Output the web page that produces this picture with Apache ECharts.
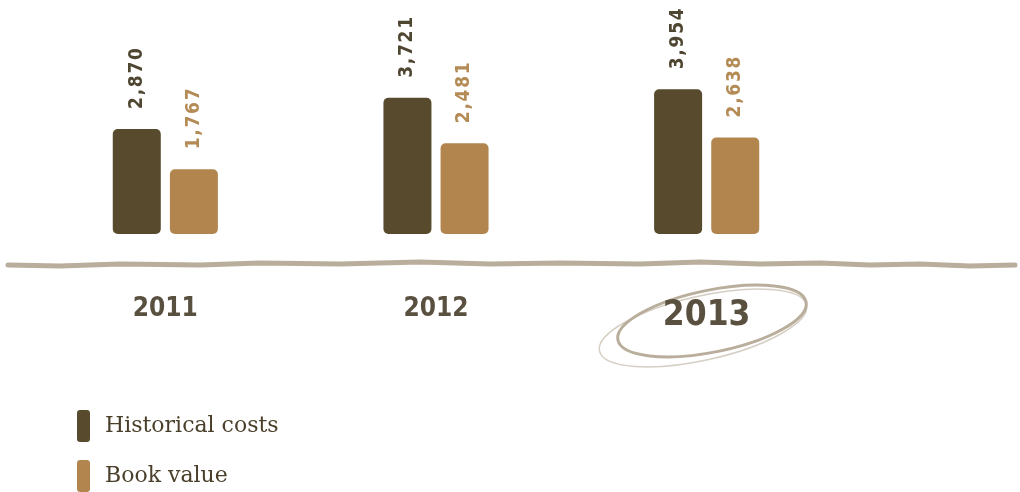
<!DOCTYPE html>
<html>
<head>
<meta charset="utf-8">
<script src="https://cdn.jsdelivr.net/npm/echarts@6/dist/echarts.min.js"></script>
<style>
  html, body { margin: 0; padding: 0; background: #fff; }
  #chart { width: 1020px; height: 492px; }
</style>
</head>
<body>
<div id="chart"></div>
<script>
  // chart data
  const years = ["2011", "2012", "2013"];
  const historicalCosts = [2870, 3721, 3954];
  const bookValue = [1767, 2481, 2638];
  const seriesNames = ["Historical costs", "Book value"];

  const dark = "#574a2d";
  const tan = "#b2854f";
  const line = "#b9ad9b";

  const chart = echarts.init(document.getElementById("chart"));

  const numberLabel = color => ({
    show: true,
    position: "top",
    rotate: 90,
    distance: 20,
    align: "left",
    verticalAlign: "middle",
    color: color,
    fontFamily: "DejaVu Sans Condensed",
    fontWeight: "bold",
    fontSize: 19,
    formatter: p => p.value.toLocaleString("en-US").split("").join("\u200a")
  });

  const option = {
    animation: false,
    grid: { left: 30, right: 178, top: 34, bottom: 258 },
    legend: {
      orient: "vertical",
      left: 77,
      top: 410,
      height: 82,
      padding: 0,
      itemWidth: 13,
      itemHeight: 32,
      itemGap: 18,
      icon: "roundRect",
      textStyle: {
        color: "#4a3f2a",
        fontFamily: "DejaVu Serif",
        fontSize: 22,
        padding: [0, 0, 22, 10]
      },
      data: seriesNames
    },
    xAxis: {
      type: "category",
      data: years,
      axisLine: { show: false },
      axisTick: { show: false },
      axisLabel: {
        margin: 62,
        color: "#595040",
        fontFamily: "DejaVu Sans Condensed",
        fontWeight: "bold",
        fontSize: 26,
        formatter: v => v === "2013" ? "{big|" + v + "}" : v,
        rich: {
          big: {
            color: "#595040",
            fontFamily: "DejaVu Sans Condensed",
            fontWeight: "bold",
            fontSize: 35,
            padding: [2, 0, 0, 0]
          }
        }
      }
    },
    yAxis: {
      type: "value",
      min: 0,
      max: 5463,
      show: false,
      splitLine: { show: false }
    },
    series: [
      {
        name: seriesNames[0],
        type: "bar",
        data: historicalCosts,
        barWidth: 48,
        barGap: "19%",
        itemStyle: { color: dark, borderRadius: 5 },
        label: numberLabel("#4f4632")
      },
      {
        name: seriesNames[1],
        type: "bar",
        data: bookValue,
        barWidth: 48,
        itemStyle: { color: tan, borderRadius: 5 },
        label: numberLabel("#b48a55")
      }
    ],
    graphic: [
      {
        type: "polyline",
        shape: {
          points: [[8, 265], [60, 266], [120, 264], [200, 265], [260, 263], [340, 264],
                   [420, 262], [490, 264], [560, 263], [640, 264], [700, 262], [760, 264],
                   [820, 263], [870, 265], [920, 264], [970, 266], [1015, 265]]
        },
        style: { stroke: line, lineWidth: 5, fill: null, lineCap: "round", lineJoin: "round" }
      },
      {
        type: "ellipse",
        x: 712, y: 321,
        rotation: 0.2,
        shape: { cx: 0, cy: 0, rx: 96, ry: 31 },
        style: { stroke: line, lineWidth: 3, fill: null }
      },
      {
        type: "ellipse",
        x: 703, y: 328,
        rotation: 0.22,
        shape: { cx: 0, cy: 0, rx: 106, ry: 32 },
        style: { stroke: line, lineWidth: 1.5, fill: null, opacity: 0.6 }
      }
    ]
  };

  chart.setOption(option);
</script>
</body>
</html>
